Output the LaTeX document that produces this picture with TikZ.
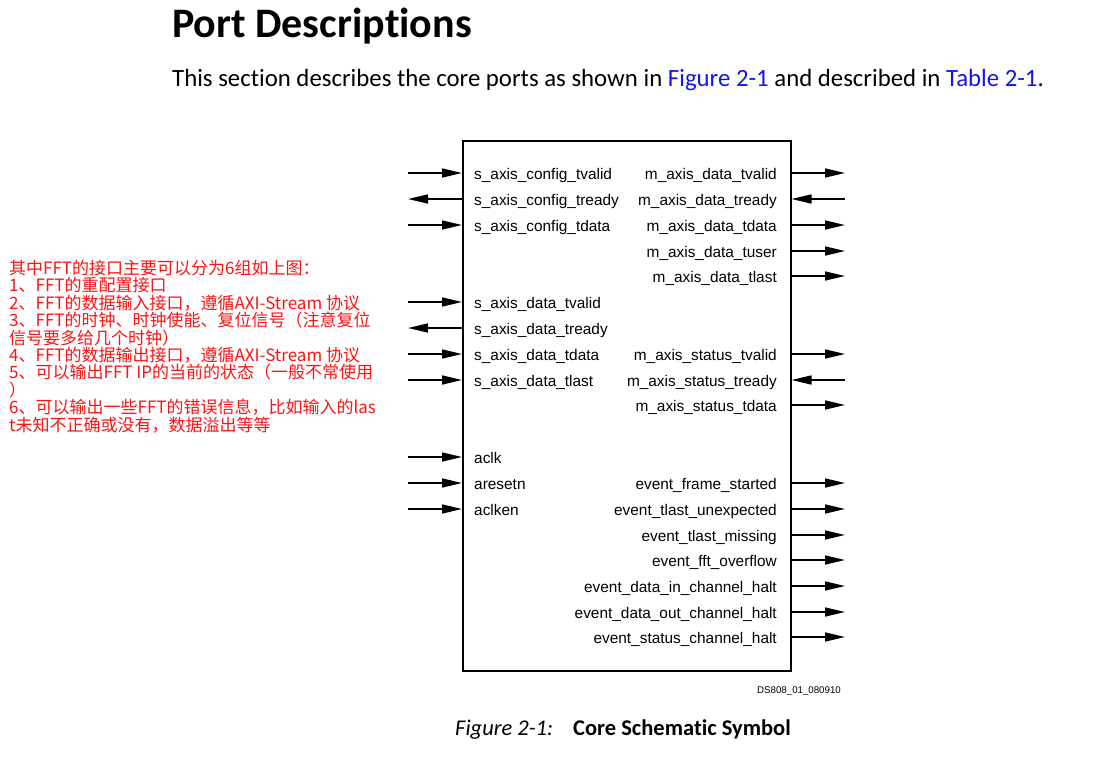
\documentclass[tikz,border=0pt]{standalone}
\usepackage{fontspec}
\setmainfont{Carlito}[Ligatures=NoCommon]
\newfontfamily\arialfont{Liberation Sans}
\newfontfamily\cjkfont{Noto Sans CJK SC}
\usetikzlibrary{arrows.meta}
\definecolor{linkblue}{RGB}{20,20,235}
\definecolor{notered}{RGB}{250,20,20}
\newcommand{\portfont}{\arialfont\fontsize{15.4}{18}\selectfont}
\tikzset{
  portlabel/.style={font=\portfont, inner sep=0pt},
  toout/.style={-{Triangle[length=20pt,width=9pt]}, line width=1.6pt},
  toin/.style={{Triangle[length=20pt,width=9pt]}-, line width=1.6pt},
}
\begin{document}
\begin{tikzpicture}[x=1pt,y=-1pt]
    \useasboundingbox (0,0) rectangle (1095,763);
    % heading and intro line
    \node[anchor=base west, inner sep=0pt, font=\bfseries\fontsize{42}{48}\selectfont] (title) at (172,37) {Port Descriptions};
    \node[anchor=base west, inner sep=0pt, font=\fontsize{24.8}{28}\selectfont] (intro) at (172,86)
        {This section describes the core ports as shown in \textcolor{linkblue}{Figure 2-1} and described in \textcolor{linkblue}{Table 2-1}.};
    % core symbol
    \node[draw, line width=1.5pt, anchor=north west, minimum width=328pt, minimum height=530pt, inner sep=0pt] (core) at (462,140) {};
    \foreach \y/\p/\d [count=\i] in {173/s\_axis\_config\_tvalid/toin, 199/s\_axis\_config\_tready/toout,
        225/s\_axis\_config\_tdata/toin, 302/s\_axis\_data\_tvalid/toin, 328/s\_axis\_data\_tready/toout,
        354/s\_axis\_data\_tdata/toin, 380/s\_axis\_data\_tlast/toin, 457/aclk/toin, 483/aresetn/toin, 509/aclken/toin}
    {%
        \coordinate (l\i) at (408,\y);
        \node[portlabel, anchor=base west] (lp\i) at (474,\y+6) {\p};
        \draw[\d] (core.west |- l\i) -- (l\i);
    }%
    \foreach \y/\p/\d [count=\i] in {173/m\_axis\_data\_tvalid/toout, 199/m\_axis\_data\_tready/toin,
        225/m\_axis\_data\_tdata/toout, 251/m\_axis\_data\_tuser/toout, 276/m\_axis\_data\_tlast/toout,
        354/m\_axis\_status\_tvalid/toout, 380/m\_axis\_status\_tready/toin, 405/m\_axis\_status\_tdata/toout,
        483/event\_frame\_started/toout, 509/event\_tlast\_unexpected/toout, 535/event\_tlast\_missing/toout,
        560/event\_fft\_overflow/toout, 586/event\_data\_in\_channel\_halt/toout,
        612/event\_data\_out\_channel\_halt/toout, 637/event\_status\_channel\_halt/toout}
    {%
        \coordinate (r\i) at (845,\y);
        \node[portlabel, anchor=base east] (rp\i) at (777,\y+6) {\p};
        \draw[\d] (core.east |- r\i) -- (r\i);
    }%
    \node[inner sep=0pt, font=\arialfont\fontsize{9.7}{11}\selectfont] (tag) at (799,691) {DS808\_01\_080910};
    % caption
    \node[anchor=base west, inner sep=0pt, font=\itshape\fontsize{22.5}{26}\selectfont] (figno) at (455,735) {Figure 2-1:};
    \node[anchor=base west, inner sep=0pt, font=\bfseries\fontsize{22.5}{26}\selectfont] (figcap) at (573,735) {Core Schematic Symbol};
    % red notes
    \node[anchor=north west, inner sep=0pt, align=left, text=notered, font=\cjkfont\fontsize{17}{17.4}\selectfont] (notes) at (9,260)
        {其中FFT的接口主要可以分为6组如上图：\\
         1、FFT的重配置接口\\
         2、FFT的数据输入接口，遵循AXI-Stream 协议\\
         3、FFT的时钟、时钟使能、复位信号（注意复位\\
         信号要多给几个时钟）\\
         4、FFT的数据输出接口，遵循AXI-Stream 协议\\
         5、可以输出FFT IP的当前的状态（一般不常使用\\
         ）\\
         6、可以输出一些FFT的错误信息，比如输入的las\\
         t未知不正确或没有，数据溢出等等};
\end{tikzpicture}
\end{document}
